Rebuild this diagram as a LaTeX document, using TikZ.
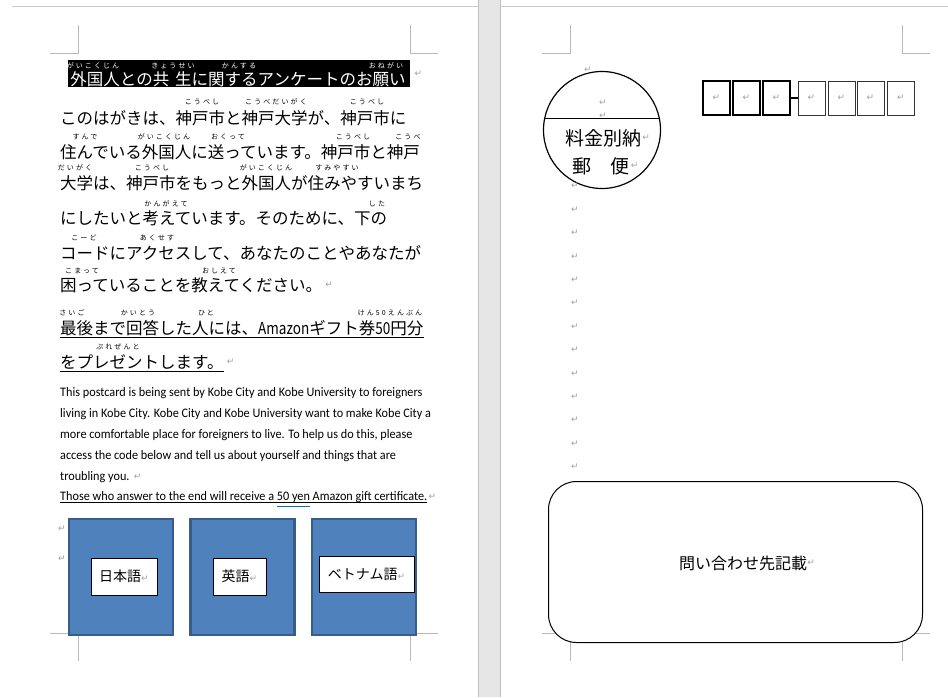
\documentclass[tikz,border=0pt]{standalone}
\usepackage{fontspec}
\usepackage[dvipsnames]{xcolor}
\usepackage{tikz}
\usetikzlibrary{positioning}
\setmainfont{Carlito}
\newfontfamily\jpfont{Noto Sans CJK JP}
\newfontfamily\rubyfont[LetterSpace=30]{Noto Sans CJK JP}
\newfontfamily\engfont[FakeStretch=0.94]{Carlito}
\newfontfamily\markfont{DejaVu Sans}
\definecolor{boxblue}{HTML}{4F81BD}
\definecolor{boxedge}{HTML}{385D8A}
\definecolor{markgray}{HTML}{A0A0A0}
\definecolor{pagegap}{HTML}{E6E6E6}
\newcommand{\ret}{{\markfont\fontsize{9}{9}\selectfont\color{markgray}↵}}
\newcommand{\narrow}[1]{\scalebox{0.82}[1]{#1}}
\tikzset{
  crop/.style={draw=gray!55, line width=0.8pt},
  ruby/.style={font=\rubyfont\fontsize{7}{7}\selectfont, inner sep=0pt},
  jline/.style={font=\jpfont\fontsize{16.5}{16.5}\selectfont, anchor=west, inner sep=0pt},
  eline/.style={font=\engfont\fontsize{13}{13}\selectfont, anchor=west, inner sep=0pt},
  retmark/.style={inner sep=0pt, font=\markfont\fontsize{9}{9}\selectfont, text=markgray},
  langbox/.style={draw=boxedge, fill=boxblue, line width=2.5pt, minimum width=104pt, minimum height=116pt},
  langlabel/.style={draw=black, fill=white, line width=0.8pt, font=\jpfont\fontsize{14}{14}\selectfont, inner sep=0pt},
  zipbox/.style={draw=black!80, minimum width=27pt, minimum height=34pt, inner sep=0pt},
}
\begin{document}
\begin{tikzpicture}[x=1pt,y=-1pt]
\useasboundingbox (0,0) rectangle (948,697);
\fill[white] (0,0) rectangle (948,697);
%
\fill[pagegap] (478,0) rectangle (500,697);
\draw[gray!50] (478,0) -- (478,697) (500,0) -- (500,697);
\draw[gray!40] (12,6) -- (478,6) (500,6) -- (948,6);
%
\foreach \cx/\cy/\dx/\dy in {78/53/-1/-1, 410/53/1/-1, 78/633/-1/1, 410/633/1/1,
  570/53/-1/-1, 902/53/1/-1, 570/633/-1/1, 902/633/1/1}
  \draw[crop] (\cx+28*\dx,\cy) -- (\cx,\cy) -- (\cx,\cy+28*\dy);
%
\node[fill=black, minimum width=342pt, minimum height=27pt, inner sep=0pt, anchor=north west] (titlebar) at (68,60) {};
\node[font=\jpfont\fontsize{16.5}{16.5}\selectfont, text=white, inner sep=0pt] (title) at (238,79) {外国人との共\hspace{6pt}生に関するアンケートのお願い};
\node[retmark, right=4pt of titlebar.east] (rettitle) {↵};
\foreach \x/\t [count=\k] in {93/がいこくじん, 173/きょうせい, 239/かんする, 386/おねがい}
  \node[ruby, text=white] (truby\k) at (\x,66) {\t};
%
\node[jline] (l1) at (60,118) {このはがきは、神戸市と神戸大学が、神戸市に};
\node[jline] (l2) at (60,152) {住んでいる外国人に送っています。神戸市と神戸};
\node[jline] (l3) at (60,183) {大学は、神戸市をもっと外国人が住みやすいまち};
\node[jline] (l4) at (60,218) {にしたいと考えています。そのために、下の};
\node[jline] (l5) at (60,253) {コードにアクセスして、あなたのことやあなたが};
\node[jline] (l6) at (60,285) {困っていることを教えてください。};
\node[jline] (l7) at (60,328) {最後まで回答した人には、\narrow{Amazon}ギフト券\narrow{50}円分};
\node[jline] (l8) at (60,362) {をプレゼントします。};
\node[retmark, right=3pt of l6] (ret6) {↵};
\node[retmark, right=3pt of l8] (ret8) {↵};
\draw[line width=1.1pt] ([yshift=-3pt]l7.base west) -- ([yshift=-3pt]l7.base east);
\draw[line width=1.1pt] ([yshift=-3pt]l8.base west) -- ([yshift=-3pt]l8.base east);
%
\foreach \x/\y/\t [count=\k] in {202/102/こうべし, 276/102/こうべだいがく, 367/102/こうべし,
  85/137/すんで, 164/137/がいこくじん, 228/137/おくって, 353/137/こうべし, 408/137/こうべ,
  75/168/だいがく, 152/168/こうべし, 266/168/がいこくじん, 337/168/すみやすい,
  166/204/かんがえて, 377/204/した,
  84/238/こーど, 157/238/あくせす,
  82/271/こまって, 219/271/おしえて,
  72/313/さいご, 138/313/かいとう, 206/313/ひと, 390/313/けん50えんぶん,
  118/347/ぷれぜんと}
  \node[ruby] (ruby\k) at (\x,\y) {\t};
%
\node[eline] (e1) at (60,393) {This postcard is being sent by Kobe City and Kobe University to foreigners};
\node[eline] (e2) at (60,414) {living in Kobe City. Kobe City and Kobe University want to make Kobe City a};
\node[eline] (e3) at (60,435) {more comfortable place for foreigners to live. To help us do this, please};
\node[eline] (e4) at (60,456) {access the code below and tell us about yourself and things that are};
\node[eline] (e5) at (60,477) {troubling you.};
\node[eline] (e6) at (60,497) {Those who answer to the end will receive a 50 yen Amazon gift certificate.};
\node[retmark, right=4pt of e5] (rete5) {↵};
\node[retmark, right=1pt of e6] (rete6) {↵};
\draw[line width=0.8pt] ([yshift=-2pt]e6.base west) -- ([yshift=-2pt]e6.base east);
\draw[MidnightBlue!70!cyan, line width=0.8pt] (277,506) -- (310,506);
%
\node[retmark] (retbox1) at (62,529) {↵};
\node[retmark] (retbox2) at (62,559) {↵};
\node[langbox] (jabox) at (121,577) {};
\node[langbox] (enbox) at (242.5,577) {};
\node[langbox] (vibox) at (364,577) {};
\node[langlabel, minimum width=66pt, minimum height=37pt] (jalabel) at (124,576.5) {日本語\ret};
\node[langlabel, minimum width=53pt, minimum height=37pt] (enlabel) at (239.5,576.5) {英語\ret};
\node[langlabel, minimum width=95pt, minimum height=36pt] (vilabel) at (366.5,574) {ベトナム語\ret};
%
\node[draw, circle, line width=1.2pt, minimum size=117pt, inner sep=0pt] (stamp) at (602,130) {};
\draw[line width=1.2pt] (stamp.11) -- (stamp.169);
\node[font=\jpfont\fontsize{19}{19}\selectfont, inner sep=0pt] (fee) at (603,138) {料金別納};
\node[font=\jpfont\fontsize{19}{19}\selectfont, inner sep=0pt] (post) at (601,166) {郵\hspace{19pt}便};
\node[retmark, right=1pt of fee] (retfee) {↵};
\node[retmark, right=1pt of post] (retpost) {↵};
\node[retmark] (retstamp1) at (588,70) {↵};
\node[retmark] (retstamp2) at (603,103) {↵};
\node[retmark] (retstamp3) at (603,116) {↵};
%
\foreach \x [count=\k] in {716.5,746.5,776.5}
  \node[zipbox, draw=black, line width=1.6pt] (zip\k) at (\x,98) {\ret};
\foreach \x [count=\k from 4] in {811.5,841.5,870.5,901}
  \node[zipbox, line width=0.9pt] (zip\k) at (\x,98) {\ret};
\draw[line width=1.6pt] (zip3) -- (zip4);
%
\foreach \i in {0,...,12}
  \node[retmark] (retcol\i) at (575,186+23.4*\i) {↵};
%
\node[draw, fill=white, rounded corners=28pt, line width=1pt, minimum width=374pt, minimum height=161pt] (contact) at (735.5,562) {};
\node[font=\jpfont\fontsize{16}{16}\selectfont, inner sep=0pt] (contacttext) at (743,563) {問い合わせ先記載};
\node[retmark, right=0pt of contacttext] (retcontact) {↵};
\end{tikzpicture}
\end{document}
